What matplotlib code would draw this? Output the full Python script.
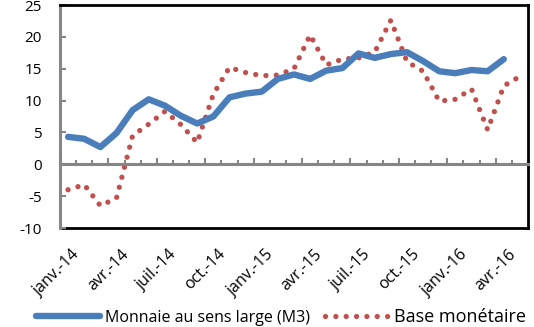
import matplotlib
matplotlib.use("Agg")
import matplotlib.pyplot as plt
import matplotlib.transforms as mtransforms
import numpy as np

plt.rcParams["font.family"] = ["Open Sans", "DejaVu Sans"]
plt.rcParams["axes.unicode_minus"] = False

# month categories, janv.-14 to mai-16
months = ["janv.-14", "févr.-14", "mars-14", "avr.-14", "mai-14", "juin-14",
          "juil.-14", "août-14", "sept.-14", "oct.-14", "nov.-14", "déc.-14",
          "janv.-15", "févr.-15", "mars-15", "avr.-15", "mai-15", "juin-15",
          "juil.-15", "août-15", "sept.-15", "oct.-15", "nov.-15", "déc.-15",
          "janv.-16", "févr.-16", "mars-16", "avr.-16", "mai-16"]

# broad money (M3), % y/y
m3 = [4.3, 4.0, 2.7, 4.9, 8.5, 10.2, 9.2, 7.6, 6.4, 7.5, 10.5, 11.1, 11.4, 13.4,
      14.1, 13.4, 14.7, 15.1, 17.4, 16.7, 17.3, 17.6, 16.2, 14.6, 14.3, 14.8,
      14.6, 16.5]

# monetary base, % y/y
base = [-4.0, -3.2, -6.5, -5.3, 4.5, 6.3, 8.3, 6.2, 3.4, 11.0, 15.2, 14.4, 13.9,
        14.0, 15.0, 20.3, 15.6, 16.5, 16.7, 17.6, 22.6, 16.1, 14.6, 9.9, 10.2,
        11.8, 5.4, 12.3, 13.8]

label_every = 3
blue = "#4a7ebb"
red = "#c0504d"
grey = "#868686"

fig = plt.figure(figsize=(5.34, 3.27), dpi=100)
ax = fig.add_axes([60 / 534, 1 - 228 / 327, 468 / 534, 223 / 327])

ax.plot(np.arange(len(m3)), m3, color=blue, lw=4.6, solid_capstyle="round",
        solid_joinstyle="round", label="Monnaie au sens large (M3)", zorder=3)
ax.plot(np.arange(len(base)), base, color=red, lw=3.8, linestyle=(0, (0.01, 1.95)),
        dash_capstyle="round", label="Base monétaire", zorder=2)

ax.set_xlim(-0.5, len(months) - 0.5)
ax.set_ylim(-10, 25)
ax.set_yticks(np.arange(-10, 26, 5))

# zero line axis with month ticks
ax.spines["bottom"].set_position(("data", 0))
ax.spines["bottom"].set_color(grey)
ax.spines["bottom"].set_linewidth(2.2)
ax.set_xticks(np.arange(-0.5, len(months), label_every))
ax.set_xticks(np.arange(-0.5, len(months), 1), minor=True)
ax.tick_params(axis="x", which="major", direction="in", length=4.5, width=1.5,
               color=grey, labelbottom=False)
ax.tick_params(axis="x", which="minor", direction="in", length=3, width=1.5,
               color=grey)

ax.spines["left"].set_color(grey)
ax.spines["left"].set_linewidth(2.2)
ax.tick_params(axis="y", direction="in", length=4.5, width=1.5, color=grey,
               labelsize=11, pad=13)
for s in ["top", "right"]:
    ax.spines[s].set_color("black")
    ax.spines[s].set_linewidth(2)

# labels below the plot area
sec = ax.secondary_xaxis(0.0)
pos = np.arange(0, len(months), label_every)
sec.set_xticks(pos, [months[i] for i in pos])
sec.tick_params(length=0, labelsize=11.5, pad=13)
shift = mtransforms.ScaledTranslation(4 / 100, 0, fig.dpi_scale_trans)
for t in sec.get_xticklabels():
    t.set_rotation(45)
    t.set_ha("right")
    t.set_rotation_mode("anchor")
    t.set_transform(t.get_transform() + shift)
sec.spines["bottom"].set_color("black")
sec.spines["bottom"].set_linewidth(2)

h, l = ax.get_legend_handles_labels()
leg = fig.legend(h, l, loc="center left", bbox_to_anchor=(36 / 534, 10 / 327),
                 ncol=2, frameon=False, fontsize=11.5, handlelength=4.0,
                 handletextpad=0.35, columnspacing=0.9, borderpad=0,
                 borderaxespad=0)
leg.get_texts()[1].set_fontsize(13)

fig.savefig("out.png", dpi=100)
